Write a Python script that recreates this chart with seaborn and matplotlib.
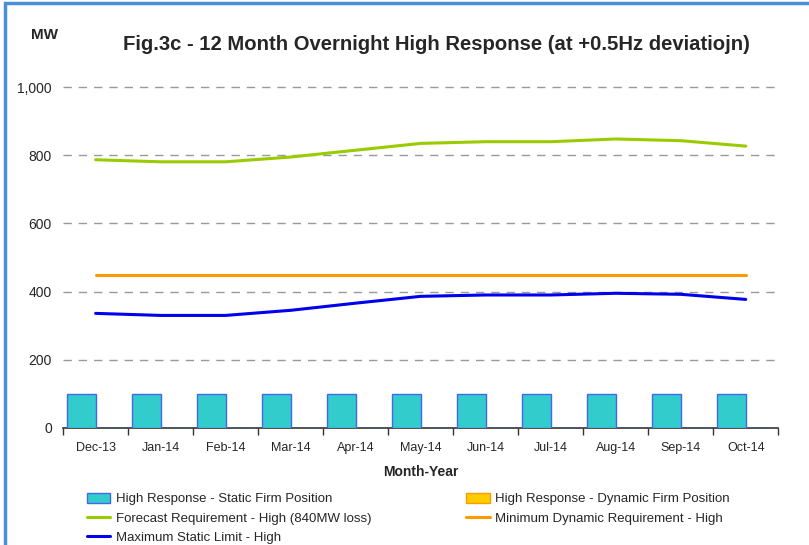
import numpy as np
import pandas as pd
import matplotlib
matplotlib.use('Agg')
import matplotlib.pyplot as plt
import seaborn as sns
from matplotlib.patches import Rectangle, Patch
from matplotlib.lines import Line2D

# ── Data ──────────────────────────────────────────────
months = ['Dec-13', 'Jan-14', 'Feb-14', 'Mar-14', 'Apr-14', 'May-14',
          'Jun-14', 'Jul-14', 'Aug-14', 'Sep-14', 'Oct-14']
static_firm = [100, 100, 100, 100, 100, 100, 100, 100, 100, 100, 100]
dynamic_firm = [0, 0, 0, 0, 0, 0, 0, 0, 0, 0, 0]
forecast_req = [787, 781, 781, 795, 815, 835, 840, 840, 848, 843, 827]
min_dynamic = [450, 450, 450, 450, 450, 450, 450, 450, 450, 450, 450]
max_static = [336, 330, 330, 345, 366, 386, 390, 390, 395, 392, 377]

bars = pd.DataFrame({'Month': months * 2,
                     'Series': ['Static'] * len(months) + ['Dynamic'] * len(months),
                     'MW': static_firm + dynamic_firm})
pos = np.arange(len(months))

# ── Plot ──────────────────────────────────────────────
sns.set_theme(style='white')
plt.rcParams['font.family'] = ['Liberation Sans', 'DejaVu Sans']

fig = plt.figure(figsize=(8.09, 5.45), dpi=100)
ax = fig.add_axes([0.078, 0.215, 0.884, 0.625])

sns.barplot(data=bars, x='Month', y='MW', hue='Series',
            hue_order=['Static', 'Dynamic'],
            palette={'Static': '#33CCCC', 'Dynamic': '#ffcc00'},
            width=0.88, saturation=1, edgecolor='#4466ee', linewidth=1,
            legend=False, ax=ax, zorder=3)
sns.lineplot(x=pos, y=forecast_req, color='#99cc00', lw=2.2, ax=ax, zorder=4)
sns.lineplot(x=pos, y=min_dynamic, color='#ff9900', lw=2.2, ax=ax, zorder=4)
sns.lineplot(x=pos, y=max_static, color='#0000ee', lw=2.2, ax=ax, zorder=4)

ax.set_xlim(-0.5, len(months) - 0.5)
ax.set_ylim(0, 1000)
ax.set_yticks([0, 200, 400, 600, 800, 1000])
ax.set_yticklabels(['0', '200', '400', '600', '800', '1,000'], fontsize=10)
ax.set_xticks(pos)
ax.set_xticklabels(months, fontsize=9)
ax.set_xticks(np.arange(-0.5, len(months)), minor=True)
ax.tick_params(axis='x', which='major', length=0, pad=10)
ax.tick_params(axis='x', which='minor', length=5, width=1, color='#333333', direction='out', bottom=True)
ax.tick_params(axis='y', length=0, pad=8)
for y in [200, 400, 600, 800, 1000]:
    ax.axhline(y, color='#999999', ls=(0, (6, 5)), lw=1, zorder=1, clip_on=False)

for s in ['top', 'right', 'left']:
    ax.spines[s].set_visible(False)
ax.spines['bottom'].set_color('#333333')
ax.spines['bottom'].set_linewidth(1.2)

ax.set_xlabel('Month-Year', fontsize=10, fontweight='bold', labelpad=8)
ax.set_ylabel('')
fig.text(0.038, 0.928, 'MW', fontsize=11, fontweight='bold')
fig.text(0.540, 0.908, 'Fig.3c - 12 Month Overnight High Response (at +0.5Hz deviatiojn)',
         fontsize=14.6, fontweight='bold', ha='center')

# column-wise order so rows read: static/dynamic, forecast/min dyn, max static
handles = [Patch(facecolor='#33CCCC', edgecolor='#4466ee'),
           Line2D([], [], color='#99cc00', lw=2.2),
           Line2D([], [], color='#0000ee', lw=2.2),
           Patch(facecolor='#ffcc00', edgecolor='#ff9900'),
           Line2D([], [], color='#ff9900', lw=2.2)]
labels = ['High Response - Static Firm Position',
          'Forecast Requirement - High (840MW loss)',
          'Maximum Static Limit - High',
          'High Response - Dynamic Firm Position',
          'Minimum Dynamic Requirement - High']
fig.legend(handles, labels, loc='upper left', bbox_to_anchor=(0.099, 0.108),
           ncol=2, frameon=False, fontsize=9.5, handlelength=1.8,
           handleheight=0.8, labelspacing=0.5, columnspacing=7.2,
           handletextpad=0.4, borderpad=0)

fig.patches.append(Rectangle((0.006, -0.02), 1.2, 1.015, transform=fig.transFigure,
                             fill=False, edgecolor='#4a90d9', lw=2.5))

plt.savefig('out.png', dpi=100)
